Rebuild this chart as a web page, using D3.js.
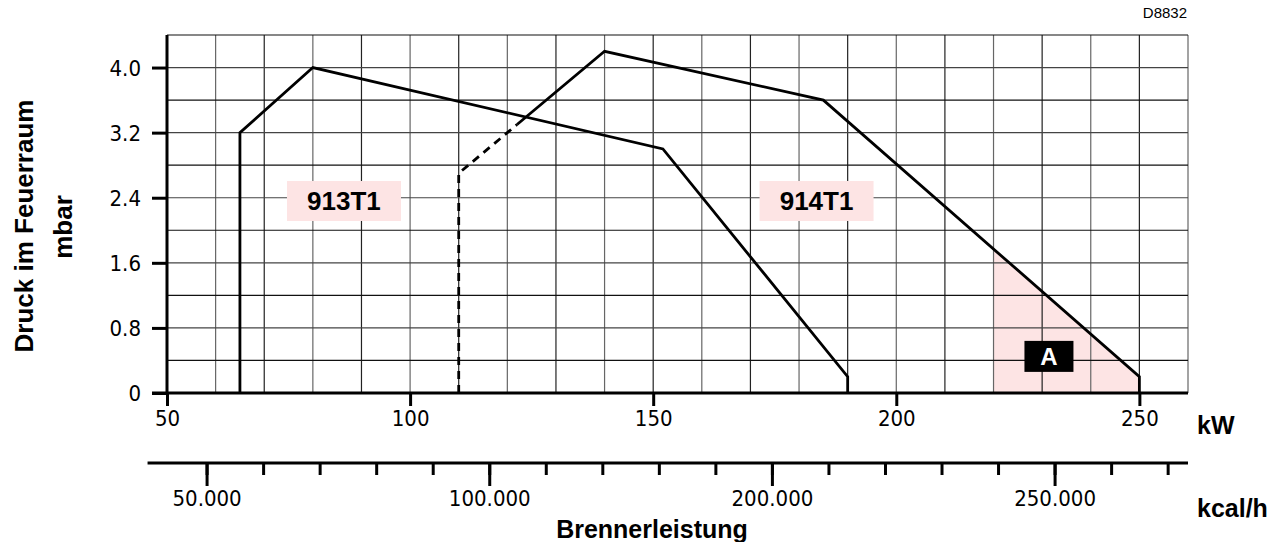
<!DOCTYPE html>
<html><head><meta charset="utf-8">
<script src="https://cdn.jsdelivr.net/npm/d3@7"></script>
<style>
html,body{margin:0;padding:0;background:#fff;}
svg{display:block;}
.tick text{font-family:"Liberation Sans Narrow","DejaVu Sans Condensed",sans-serif;}
</style></head>
<body>
<svg id="chart" width="1275" height="542"></svg>
<script>
// ---- data ----
const curve913Kw   = [65, 65, 80, 152, 190, 190];
const curve913Mbar = [0, 3.2, 4.0, 3.0, 0.2, 0];
const curve914DashKw   = [110, 110, 122];
const curve914DashMbar = [0, 2.7, 3.3];
const curve914Kw   = [122, 140, 185, 250, 250];
const curve914Mbar = [3.3, 4.2, 3.6, 0.2, 0];
const areaAKw   = [220, 220, 250, 250];
const areaAMbar = [0, 1.77, 0.2, 0];
const yTicks = [0, 0.8, 1.6, 2.4, 3.2, 4.0];
const yTickLabels = ["0", "0.8", "1.6", "2.4", "3.2", "4.0"];
const xTicks = [50, 100, 150, 200, 250];
const xTickLabels = ["50", "100", "150", "200", "250"];
const kcalMinorTicks = [50000,60000,70000,80000,90000,100000,110000,120000,130000,140000,150000,160000,170000,180000,190000,200000,210000,220000];
const kcalMajorTicks = [50000, 100000, 150000, 200000];
const kcalTickLabels = ["50.000", "100.000", "200.000", "250.000"];
const xGrid = [60,70,80,90,100,110,120,130,140,150,160,170,180,190,200,210,220,230,240,250,260];
const yGrid = [0.4,0.8,1.2,1.6,2.0,2.4,2.8,3.2,3.6,4.0,4.4];
const KCAL_PER_KW = 860;

// ---- layout ----
const svg = d3.select("#chart");
const L = 167, R = 1188, T = 35, B = 393;
const x = d3.scaleLinear().domain([50, 260]).range([L, R]);
const y = d3.scaleLinear().domain([0, 4.4]).range([B, T]);
const kcal = d3.scaleLinear().domain([50 * KCAL_PER_KW, 260 * KCAL_PER_KW]).range([L, R]);
const pink = "#fde4e4";
const bold = "'Liberation Sans',Arial,sans-serif";

// shaded region A
const zip = (a, b) => a.map((v, i) => [v, b[i]]);
const line = d3.line().x(d => x(d[0])).y(d => y(d[1]));
svg.append("path").attr("d", line(zip(areaAKw, areaAMbar)) + "Z").attr("fill", pink);

// grid
svg.append("g").selectAll("line").data(xGrid).join("line")
  .attr("x1", d => x(d)).attr("x2", d => x(d)).attr("y1", T).attr("y2", B)
  .attr("stroke", (d, i) => i % 2 ? "#222" : "#666").attr("stroke-width", 1.2);
svg.append("g").selectAll("line").data(yGrid).join("line")
  .attr("y1", d => y(d)).attr("y2", d => y(d)).attr("x1", L).attr("x2", R)
  .attr("stroke", (d, i) => i % 2 ? "#444" : "#111").attr("stroke-width", 1.2);

// label boxes
function box(cx, cy, w, h, fill) {
  svg.append("rect").attr("x", cx - w / 2).attr("y", cy - h / 2).attr("width", w).attr("height", h).attr("fill", fill);
}
box(x(86.4), y(2.36), 114, 40, pink);
box(x(183.6), y(2.36), 114, 40, pink);
svg.append("text").attr("x", x(86.4)).attr("y", y(2.36) + 9.5).attr("text-anchor", "middle")
  .attr("font-family", bold).attr("font-weight", "bold").attr("font-size", 26).text("913T1");
svg.append("text").attr("x", x(183.6)).attr("y", y(2.36) + 9.5).attr("text-anchor", "middle")
  .attr("font-family", bold).attr("font-weight", "bold").attr("font-size", 26).text("914T1");

// curves
svg.append("path").attr("d", line(zip(curve913Kw, curve913Mbar))).attr("fill", "none")
  .attr("stroke", "#000").attr("stroke-width", 2.8).attr("stroke-linejoin", "miter");
svg.append("path").attr("d", line(zip(curve914DashKw, curve914DashMbar))).attr("fill", "none")
  .attr("stroke", "#000").attr("stroke-width", 2.8).attr("stroke-dasharray", "8,6");
svg.append("path").attr("d", line(zip(curve914Kw, curve914Mbar))).attr("fill", "none")
  .attr("stroke", "#000").attr("stroke-width", 2.8);

// A box
box(x(231.4), y(0.45), 49, 31, "#000");
svg.append("text").attr("x", x(231.4)).attr("y", y(0.45) + 8.5).attr("text-anchor", "middle")
  .attr("font-family", bold).attr("font-weight", "bold").attr("font-size", 24).attr("fill", "#fff").text("A");

// axes
const yAxis = d3.axisLeft(y).tickValues(yTicks).tickFormat((d, i) => yTickLabels[i]).tickSize(15).tickPadding(11).tickSizeOuter(0);
const gy = svg.append("g").attr("transform", `translate(${L},0)`).call(yAxis);
gy.select(".domain").remove();
gy.selectAll(".tick line").attr("stroke", "#000").attr("stroke-width", 3);
gy.selectAll(".tick text").attr("font-size", 22).attr("fill", "#000").attr("dy", "0.35em");

const xAxis = d3.axisBottom(x).tickValues(xTicks).tickFormat((d, i) => xTickLabels[i]).tickSize(13).tickPadding(4).tickSizeOuter(0);
const gx = svg.append("g").attr("transform", `translate(0,${B})`).call(xAxis);
gx.select(".domain").remove();
gx.selectAll(".tick line").attr("stroke", "#000").attr("stroke-width", 3);
gx.selectAll(".tick text").attr("font-size", 22).attr("fill", "#000");

svg.append("line").attr("x1", L).attr("x2", L).attr("y1", T).attr("y2", B + 1.5).attr("stroke", "#000").attr("stroke-width", 3);
svg.append("line").attr("x1", L - 15).attr("x2", R).attr("y1", B).attr("y2", B).attr("stroke", "#000").attr("stroke-width", 3);

// kcal/h axis
const KY = 463;
const kMinor = d3.axisBottom(kcal).tickValues(kcalMinorTicks).tickFormat("").tickSize(12).tickSizeOuter(0);
const gk1 = svg.append("g").attr("transform", `translate(0,${KY})`).call(kMinor);
gk1.select(".domain").remove();
gk1.selectAll(".tick line").attr("stroke", "#000").attr("stroke-width", 3);
const kMajor = d3.axisBottom(kcal).tickValues(kcalMajorTicks).tickFormat((d, i) => kcalTickLabels[i]).tickSize(23).tickPadding(4).tickSizeOuter(0);
const gk2 = svg.append("g").attr("transform", `translate(0,${KY})`).call(kMajor);
gk2.select(".domain").remove();
gk2.selectAll(".tick line").attr("stroke", "#000").attr("stroke-width", 3);
gk2.selectAll(".tick text").attr("font-size", 22).attr("fill", "#000");
svg.append("line").attr("x1", x(46)).attr("x2", R).attr("y1", KY).attr("y2", KY).attr("stroke", "#000").attr("stroke-width", 3);

// titles
function label(t, xx, yy, size, anchor, rot) {
  const el = svg.append("text").attr("font-family", bold).attr("font-weight", "bold").attr("font-size", size)
    .attr("text-anchor", anchor).text(t);
  if (rot) el.attr("transform", `translate(${xx},${yy}) rotate(-90)`);
  else el.attr("x", xx).attr("y", yy);
  return el;
}
label("kW", 1197, 434, 25, "start");
label("kcal/h", 1197, 517, 25, "start");
label("Brennerleistung", 652, 538, 25, "middle");
label("Druck im Feuerraum", 33, 226, 26, "middle", true);
label("mbar", 72, 227, 26, "middle", true);
svg.append("text").attr("x", 1187).attr("y", 18).attr("text-anchor", "end")
  .attr("font-family", bold).attr("font-size", 15).text("D8832");
</script>
</body></html>
